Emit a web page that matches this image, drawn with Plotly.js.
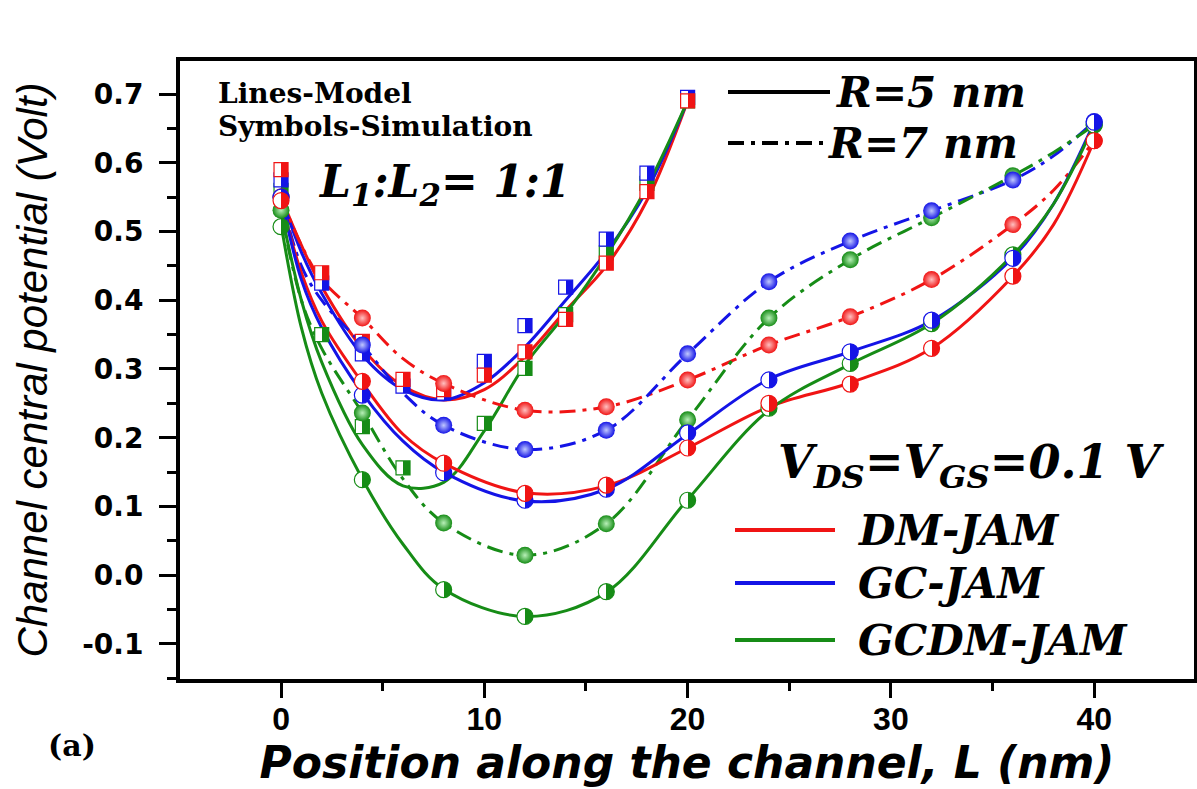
<!DOCTYPE html>
<html><head><meta charset="utf-8">
<script src="https://cdn.plot.ly/plotly-3.0.1.min.js"></script>
<style>html,body{margin:0;padding:0;background:#fff;} #chart{width:1197px;height:789px;}</style>
</head><body><div id="chart"></div>
<script>
// ---------- data ----------
// Long channel (L = 40 nm) simulation positions
const xSimLong = [0, 4, 8, 12, 16, 20, 24, 28, 32, 36, 40];
const simDM5   = [0.545, 0.282, 0.163, 0.119, 0.131, 0.185, 0.250, 0.278, 0.330, 0.435, 0.632];
const simGC5   = [0.550, 0.262, 0.149, 0.109, 0.125, 0.207, 0.284, 0.325, 0.371, 0.461, 0.659];
const simGCDM5 = [0.507, 0.139, -0.021, -0.060, -0.024, 0.109, 0.243, 0.308, 0.366, 0.466, 0.655];
const simDM7   = [0.550, 0.374, 0.279, 0.240, 0.245, 0.284, 0.335, 0.376, 0.430, 0.510, 0.632];
const simGC7   = [0.550, 0.335, 0.218, 0.183, 0.211, 0.322, 0.427, 0.486, 0.530, 0.575, 0.660];
const simGCDM7 = [0.531, 0.236, 0.076, 0.029, 0.075, 0.226, 0.374, 0.459, 0.520, 0.581, 0.655];

// Short channel (L = 20 nm) simulation positions (squares)
const xSimShort = [0, 2, 4, 6, 8, 10, 12, 14, 16, 18, 20];
const sqDM   = [0.590, 0.440, 0.340, 0.285, 0.270, 0.291, 0.325, 0.372, 0.454, 0.558, 0.690];
const sqGC   = [0.575, 0.425, 0.322, 0.275, 0.265, 0.311, 0.363, 0.419, 0.489, 0.585, 0.695];
const sqGCDM = [0.560, 0.350, 0.216, 0.156, null, 0.221, 0.301, 0.379, 0.469, 0.570, 0.690];

// Model curves, long channel
const xModLong = [0, 1, 2, 4, 6, 8, 12, 16, 20, 24, 28, 32, 36, 38, 40];
const modDM5   = [0.545, 0.440, 0.370, 0.280, 0.205, 0.163, 0.120, 0.130, 0.185, 0.245, 0.280, 0.330, 0.435, 0.510, 0.632];
const modGC5   = [0.550, 0.430, 0.360, 0.265, 0.195, 0.150, 0.108, 0.125, 0.205, 0.285, 0.325, 0.370, 0.462, 0.540, 0.659];
const modGCDM5 = [0.510, 0.360, 0.265, 0.140, 0.045, -0.020, -0.060, -0.025, 0.110, 0.240, 0.307, 0.366, 0.466, 0.540, 0.655];
const modDM7   = [0.550, 0.480, 0.430, 0.374, 0.315, 0.279, 0.240, 0.245, 0.284, 0.335, 0.376, 0.430, 0.510, 0.560, 0.632];
const modGC7   = [0.550, 0.450, 0.400, 0.335, 0.265, 0.218, 0.183, 0.211, 0.322, 0.427, 0.486, 0.530, 0.575, 0.610, 0.660];
const modGCDM7 = [0.530, 0.400, 0.330, 0.236, 0.140, 0.076, 0.029, 0.075, 0.226, 0.374, 0.459, 0.520, 0.581, 0.615, 0.655];

// Model curves, short channel
const xModShort = [0, 1, 2, 4, 6, 8, 10, 12, 14, 16, 18, 20];
const modDMs    = [0.550, 0.480, 0.420, 0.330, 0.275, 0.255, 0.270, 0.318, 0.385, 0.450, 0.545, 0.690];
const modGCs    = [0.550, 0.470, 0.410, 0.320, 0.270, 0.255, 0.280, 0.332, 0.400, 0.470, 0.560, 0.690];
const modGCDMs  = [0.530, 0.400, 0.310, 0.190, 0.130, 0.135, 0.210, 0.306, 0.380, 0.465, 0.565, 0.690];

// Axis ticks
const xTickVals = [0, 10, 20, 30, 40];
const xTickText = ['0', '10', '20', '30', '40'];
const yTickVals = [-0.1, 0.0, 0.1, 0.2, 0.3, 0.4, 0.5, 0.6, 0.7];
const yTickText = ['-0.1', '0.0', '0.1', '0.2', '0.3', '0.4', '0.5', '0.6', '0.7'];

// ---------- styles ----------
const RED = '#f01414', BLUE = '#1414e6', GREEN = '#168c16';
const TINT = {[RED]: '#ffc0c0', [BLUE]: '#c0c8ff', [GREEN]: '#b8f0b8'};
const DASHDOT = '16px,7px,4px,7px';
const SERIF = 'DejaVu Serif, Liberation Serif, serif';

function modelLine(x, y, color, dash) {
  return {x: x, y: y, type: 'scatter', mode: 'lines', hoverinfo: 'skip',
    line: {color: color, width: 3, shape: 'spline', smoothing: 1, dash: dash}};
}
function halfMarkers(x, y, color, symbol, size) {
  return {x: x, y: y, type: 'scatter', mode: 'markers',
    marker: {symbol: symbol, size: size, color: '#ffffff',
      gradient: {type: 'horizontal', color: color},
      line: {color: color, width: 1.2}}};
}
function ballMarkers(x, y, color) {
  return {x: x, y: y, type: 'scatter', mode: 'markers',
    marker: {symbol: 'circle', size: 17, color: color,
      gradient: {type: 'radial', color: TINT[color]},
      line: {color: color, width: 0}}};
}

const traces = [
  modelLine(xModShort, modDMs, RED, 'solid'),
  modelLine(xModShort, modGCs, BLUE, 'solid'),
  modelLine(xModShort, modGCDMs, GREEN, 'solid'),
  modelLine(xModLong, modDM7, RED, DASHDOT),
  modelLine(xModLong, modGC7, BLUE, DASHDOT),
  modelLine(xModLong, modGCDM7, GREEN, DASHDOT),
  modelLine(xModLong, modDM5, RED, 'solid'),
  modelLine(xModLong, modGC5, BLUE, 'solid'),
  modelLine(xModLong, modGCDM5, GREEN, 'solid'),
  halfMarkers(xSimShort, sqGCDM, GREEN, 'square', 14),
  halfMarkers(xSimShort, sqGC, BLUE, 'square', 14),
  halfMarkers(xSimShort, sqDM, RED, 'square', 14),
  ballMarkers(xSimLong, simGCDM7, GREEN),
  ballMarkers(xSimLong, simGC7, BLUE),
  ballMarkers(xSimLong, simDM7, RED),
  halfMarkers(xSimLong, simGCDM5, GREEN, 'circle', 16),
  halfMarkers(xSimLong, simGC5, BLUE, 'circle', 16),
  halfMarkers(xSimLong, simDM5, RED, 'circle', 16)
];

// plot area in pixels: x 180..1194, y 61..679
const PX = v => (v - 180) / 1014;
const PY = v => (679 - v) / 618;

function legLine(x0, x1, y, color, dash) {
  return {type: 'line', xref: 'paper', yref: 'paper', x0: PX(x0), x1: PX(x1), y0: PY(y), y1: PY(y),
    line: {color: color, width: 4, dash: dash}};
}
function txt(text, x, y, size, italic, anchor) {
  return {text: text, xref: 'paper', yref: 'paper', x: PX(x), y: PY(y), xanchor: anchor || 'left', yanchor: 'middle',
    showarrow: false, font: {family: SERIF, size: size, color: '#000', weight: 'bold', style: italic ? 'italic' : 'normal'}};
}

const layout = {
  width: 1197, height: 789,
  margin: {l: 180, r: 3, t: 61, b: 110},
  paper_bgcolor: '#ffffff', plot_bgcolor: '#ffffff',
  showlegend: false,
  xaxis: {
    range: [-4.97, 44.91], tickmode: 'array', tickvals: xTickVals, ticktext: xTickText,
    ticks: 'outside', ticklen: 15, tickwidth: 3, tickcolor: '#000', ticklabelstandoff: -6,
    showline: true, linewidth: 4, linecolor: '#000', mirror: true,
    showgrid: false, zeroline: false,
    minor: {tickmode: 'linear', tick0: 0, dtick: 5, ticks: 'outside', ticklen: 8, tickwidth: 3, tickcolor: '#000', showgrid: false},
    tickfont: {family: 'Liberation Sans, Arial, sans-serif', size: 32, weight: 'bold', color: '#000'},
    title: {text: 'Position along the channel, L (nm)', standoff: 8,
      font: {family: 'DejaVu Sans, Liberation Sans', size: 44, weight: 'bold', style: 'italic', color: '#000'}}
  },
  yaxis: {
    range: [-0.151, 0.748], tickmode: 'array', tickvals: yTickVals, ticktext: yTickText,
    ticks: 'outside', ticklen: 17, tickwidth: 3, tickcolor: '#000', ticklabelstandoff: 10,
    showline: true, linewidth: 4, linecolor: '#000', mirror: true,
    showgrid: false, zeroline: false,
    minor: {tickmode: 'linear', tick0: 0, dtick: 0.05, ticks: 'outside', ticklen: 9, tickwidth: 3, tickcolor: '#000', showgrid: false},
    tickfont: {family: 'DejaVu Sans, Liberation Sans', size: 28, weight: 'bold', color: '#000'},
    title: {text: 'Channel central potential (Volt)', standoff: 22,
      font: {family: 'Liberation Sans, Arial, sans-serif', size: 42, style: 'italic', color: '#000'}}
  },
  shapes: [
    legLine(728, 830, 92, '#000', 'solid'),
    legLine(728, 830, 143, '#000', DASHDOT),
    legLine(735, 835, 530, RED, 'solid'),
    legLine(735, 835, 583, BLUE, 'solid'),
    legLine(735, 835, 640, GREEN, 'solid')
  ],
  annotations: [
    txt('Lines-Model', 216, 94, 28, false),
    txt('Symbols-Simulation', 216, 126, 28, false),
    txt('L<sub>1</sub>:L<sub>2</sub>= 1:1', 316, 185, 44, true),
    txt('R=5 nm', 834, 92, 42, true),
    txt('R=7 nm', 826, 143, 42, true),
    txt('V<sub>DS</sub>=V<sub>GS</sub>=0.1 V', 776, 465, 46, true),
    txt('DM-JAM', 856, 530, 42, true),
    txt('GC-JAM', 856, 583, 42, true),
    txt('GCDM-JAM', 856, 640, 42, true),
    txt('(a)', 46, 745, 30, false)
  ]
};

Plotly.newPlot('chart', traces, layout, {staticPlot: true, displayModeBar: false}).then(function () {
  // make the horizontal-gradient markers sharply half filled (left white, right colour)
  document.querySelectorAll('#chart linearGradient').forEach(function (g) {
    g.querySelectorAll('stop').forEach(function (s) { s.setAttribute('offset', '50%'); });
  });
});
</script>
</body></html>
